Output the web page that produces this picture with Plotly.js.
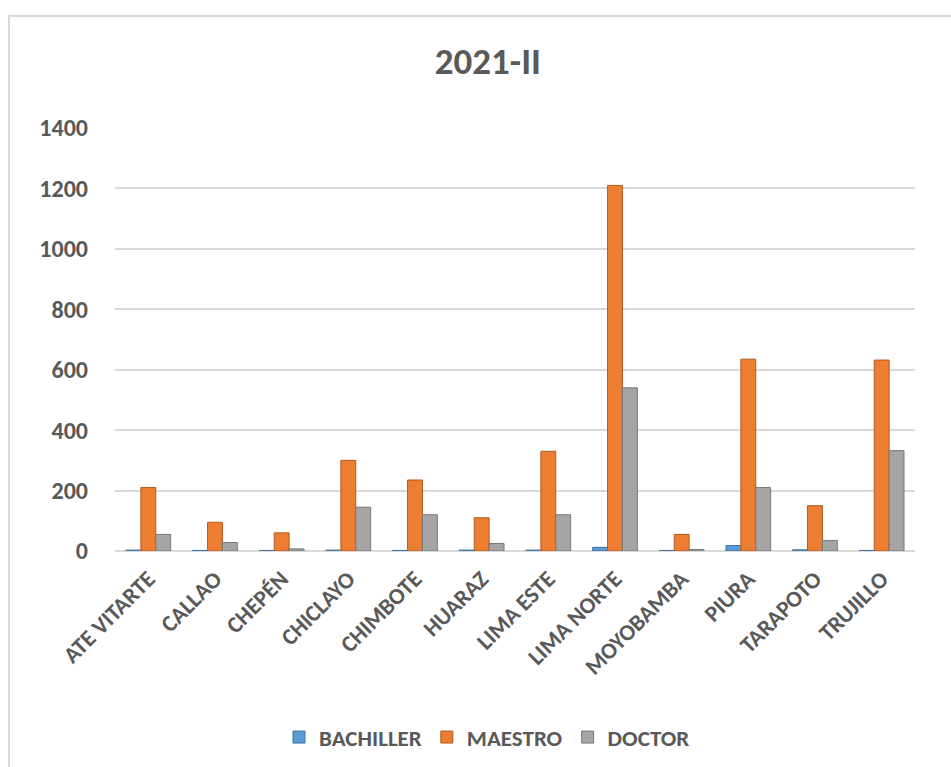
<!DOCTYPE html>
<html>
<head>
<meta charset="utf-8">
<script src="https://cdn.plot.ly/plotly-3.0.1.min.js"></script>
<style>
html,body{margin:0;padding:0;background:#fff;width:951px;height:767px;overflow:hidden;}
#frame{position:absolute;left:8px;top:15px;width:1000px;height:800px;border-left:2px solid #D9D9D9;border-top:2px solid #D9D9D9;box-sizing:border-box;pointer-events:none;z-index:5;}
#chart{position:absolute;left:0;top:0;width:951px;height:767px;}
</style>
</head>
<body>
<div id="chart"></div>
<div id="frame"></div>
<script>
const categories = ["ATE VITARTE","CALLAO","CHEPÉN","CHICLAYO","CHIMBOTE","HUARAZ","LIMA ESTE","LIMA NORTE","MOYOBAMBA","PIURA","TARAPOTO","TRUJILLO"];
const bachiller = [3, 2, 2, 3, 2, 3, 3, 12, 2, 18, 4, 2];
const maestro = [210, 95, 60, 300, 235, 110, 330, 1210, 55, 635, 150, 632];
const doctor = [55, 28, 7, 145, 120, 25, 120, 540, 5, 210, 35, 332];
const seriesNames = ["BACHILLER","MAESTRO","DOCTOR"];
const yTicks = [0,200,400,600,800,1000,1200,1400];

const font = "Carlito, Calibri, Lato, 'Open Sans', sans-serif";
const txt = "#595959";
const colors = ["#5B9BD5","#ED7D31","#A5A5A5"];
const edge = ["#41719C","#AE5A21","#787878"];
const data = [bachiller, maestro, doctor].map((vals, i) => ({
  type: "bar",
  name: "<b>" + seriesNames[i] + "</b>",
  x: categories,
  y: vals,
  marker: {color: colors[i], line: {color: edge[i], width: 1}},
  hoverinfo: "x+y+name"
}));

const layout = {
  width: 951, height: 767,
  paper_bgcolor: "#fff", plot_bgcolor: "#fff",
  margin: {l: 115, r: 36, t: 128, b: 216, autoexpand: false},
  title: {text: "<b>2021-II</b>", x: 0.513, xanchor: "center", y: 0.92, yanchor: "middle",
          font: {family: font, size: 37, color: txt}},
  barmode: "group",
  bargap: 0.33,
  bargroupgap: 0,
  showlegend: true,
  legend: {orientation: "h", x: 0.465, xanchor: "center", y: -0.44, yanchor: "middle",
           font: {family: font, size: 23, color: txt}, itemwidth: 30, traceorder: "normal"},
  xaxis: {
    type: "category",
    automargin: false,
    tickangle: -45,
    tickfont: {family: font, size: 23, color: txt},
    showgrid: false, zeroline: false, showline: false, ticks: "",
    tickprefix: "<b>", ticksuffix: "</b>",
    ticklabelstandoff: 9
  },
  yaxis: {
    automargin: false,
    range: [0, 1400],
    tickvals: yTicks,
    ticktext: yTicks.map(v => "<b>" + v + "</b>"),
    tickfont: {family: font, size: 24, color: txt},
    showgrid: true, gridcolor: "#D9D9D9", gridwidth: 2,
    zeroline: true, zerolinecolor: "#D9D9D9", zerolinewidth: 2,
    showline: false, ticks: "",
    ticklabelstandoff: 26
  }
};

Plotly.newPlot("chart", data, layout, {displayModeBar: false, staticPlot: true});
</script>
</body>
</html>
